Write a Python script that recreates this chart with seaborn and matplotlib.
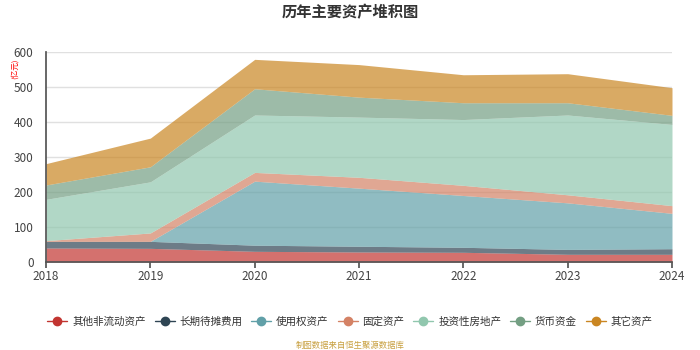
import numpy as np
import pandas as pd
import matplotlib
matplotlib.use("Agg")
import matplotlib.pyplot as plt
from matplotlib.lines import Line2D
import seaborn as sns

years = [2018, 2019, 2020, 2021, 2022, 2023, 2024]
series_names = ["其他非流动资产", "长期待摊费用", "使用权资产", "固定资产", "投资性房地产", "货币资金", "其它资产"]
other_noncurrent = [40, 39, 30.5, 28.6, 27.7, 22, 22]
long_prepaid = [19, 20, 17.5, 16.4, 14.3, 14, 16]
right_of_use = [0, 0, 183, 166, 148, 133, 101]
fixed_assets = [2, 24, 25, 31, 29, 23, 22]
invest_property = [118, 146, 164, 172, 188, 228, 232]
cash = [41, 43, 75, 57, 48, 35, 26]
other_assets = [61, 82, 84, 93, 80, 83, 79]
colors = ["#c23531", "#2f4554", "#61a0a8", "#d48265", "#91c7ae", "#749f83", "#ca8622"]

sns.set_theme(style="white")
plt.rcParams['font.family'] = ['Noto Sans CJK SC', 'DejaVu Sans']

df = pd.DataFrame({"year": years})
for n, v in zip(series_names, [other_noncurrent, long_prepaid, right_of_use, fixed_assets,
                               invest_property, cash, other_assets]):
    df[n] = v

fig = plt.figure(figsize=(7, 3.5), dpi=100)
ax = fig.add_axes([46/700, 88/350, 626/700, 210/350])

base = np.zeros(len(years))
for n, c in zip(series_names, colors):
    top = base + df[n].values
    ax.fill_between(df["year"], base, top, color=c, alpha=0.7, linewidth=0, zorder=2)
    base = top

ax.set_xlim(2018, 2024)
ax.set_ylim(0, 600)
ax.set_xticks(years)
ax.set_yticks(range(0, 601, 100))
ax.yaxis.grid(True, color="#e0e0e0", linewidth=1, zorder=0)
ax.set_axisbelow(True)
for s in ["top", "right"]:
    ax.spines[s].set_visible(False)
ax.spines["left"].set_color("#555555")
ax.spines["bottom"].set_color("#555555")
ax.tick_params(axis="x", bottom=True, length=4, color="#555555", labelsize=8.5, labelcolor="#444444", pad=2)
ax.tick_params(axis="y", left=False, labelsize=8.5, labelcolor="#444444", pad=3)

fig.text(0.5, 1 - 12/350, "历年主要资产堆积图", ha="center", va="center", fontsize=11, fontweight="bold", color="#333333")
fig.text(15/700, 1 - 69/350, "(亿元)", ha="center", va="center", rotation=90, fontsize=5.5, color="red")

handles = [Line2D([0], [0], color=c, marker="o", markersize=6, linewidth=1) for c in colors]
fig.legend(handles, series_names, loc="center", bbox_to_anchor=(0.5, 1 - 322/350), ncol=7,
           frameon=False, fontsize=7.6, handlelength=1.9, handletextpad=0.45, columnspacing=0.85,
           labelcolor="#333333")
fig.text(0.5, 1 - 345/350, "制图数据来自恒生聚源数据库", ha="center", va="center", fontsize=6, color="#c8a040")

fig.savefig("out.png", dpi=100)
